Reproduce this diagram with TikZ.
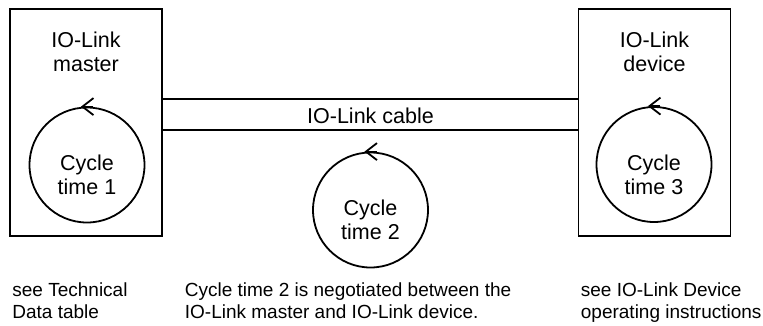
\documentclass[tikz,border=0pt]{standalone}
\usepackage{fontspec}
\setmainfont{Liberation Sans}
\usetikzlibrary{arrows.meta}

\begin{document}
\begin{tikzpicture}[x=1pt, y=-1pt, line width=1.8pt,
        every node/.style = {font=\fontsize{21.5}{24}\selectfont},
        unit/.style = {draw, rectangle, minimum width=152pt, minimum height=227pt},
        cyc/.style = {draw, circle, minimum size=115pt, inner sep=0pt},
        turn/.style = {-{Straight Barb[length=11pt, width=17pt]}},
        txt/.style = {align=center, inner sep=0pt},
        note/.style = {align=left, anchor=north west, inner sep=0pt,
            font=\fontsize{19}{22}\selectfont}]
    \useasboundingbox (0,0) rectangle (763,325);
    % master and device
    \node[unit] (master) at (86,122.5) {};
    \node[unit] (device) at (654.5,122.5) {};
    \node[txt] (mtitle) at (86,51.5) {IO-Link\\master};
    \node[txt] (dtitle) at (654.5,51.5) {IO-Link\\device};
    % cable
    \draw ([yshift=23.5pt]master.east) -- ([yshift=23.5pt]device.west);
    \draw ([yshift=-7.5pt]master.east) -- ([yshift=-7.5pt]device.west);
    \node[txt] (cable) at (370.5,115.5) {IO-Link cable};
    % cycles
    \node[cyc] (c1) at (87,165) {};
    \node[cyc] (c2) at (370.5,210) {};
    \node[cyc] (c3) at (654,164.5) {};
    \node[txt] at ([yshift=-10pt]c1.center) {Cycle\\time 1};
    \node[txt] at ([yshift=-10pt]c2.center) {Cycle\\time 2};
    \node[txt] at ([yshift=-10pt]c3.center) {Cycle\\time 3};
    \draw[turn] ([xshift=6pt]c1.north) -- ([xshift=-6pt]c1.north);
    \draw[turn] ([xshift=6pt]c2.north) -- ([xshift=-6pt]c2.north);
    \draw[turn] ([xshift=6pt]c3.north) -- ([xshift=-6pt]c3.north);
    % notes
    \node[note] (n1) at (11.5,282) {see Technical\\Data table};
    \node[note] (n2) at (184,282) {Cycle time 2 is negotiated between the\\IO-Link master and IO-Link device.};
    \node[note] (n3) at (580,282) {see IO-Link Device\\operating instructions};
\end{tikzpicture}
\end{document}
